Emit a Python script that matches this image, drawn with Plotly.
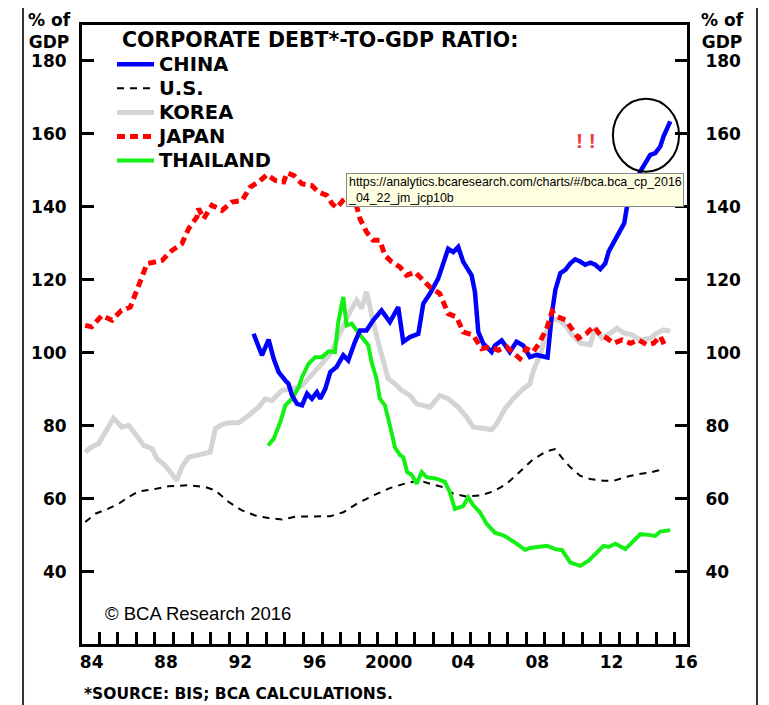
import plotly.graph_objects as go

# ---------------- data ----------------
china_x = [1992.72, 1992.99, 1993.17, 1993.35, 1993.53, 1993.8, 1994.07, 1994.43, 1994.6, 1994.79,
           1995.06, 1995.33, 1995.6, 1995.86, 1996.13, 1996.31, 1996.58, 1996.85, 1997.19, 1997.55,
           1997.82, 1998.18, 1998.45, 1998.8, 1999.16, 1999.61, 2000.06, 2000.51, 2000.78, 2001.14,
           2001.59, 2001.86, 2002.22, 2002.66, 2002.93, 2003.2, 2003.47, 2003.74, 2004.01, 2004.46,
           2004.64, 2004.82, 2005.09, 2005.54, 2005.72, 2006.08, 2006.52, 2006.88, 2007.24, 2007.6,
           2007.96, 2008.55, 2008.79, 2008.97, 2009.24, 2009.51, 2009.78, 2010.04, 2010.31, 2010.58,
           2010.85, 2011.12, 2011.39, 2011.66, 2011.84, 2012.2, 2012.47, 2012.68, 2012.83, 2013.01,
           2013.28, 2013.55, 2013.81, 2014.08, 2014.35, 2014.62, 2014.8, 2014.98, 2015.16]
china_y = [105.2, 102.0, 99.3, 101.5, 103.6, 98.4, 94.7, 92.4, 91.5, 88.3,
           86.0, 85.6, 88.8, 87.4, 89.2, 87.4, 90.1, 94.7, 96.1, 99.3,
           97.9, 103.0, 106.1, 106.1, 108.9, 111.6, 108.4, 112.5, 103.0, 104.3,
           105.2, 113.5, 116.2, 120.3, 124.9, 128.5, 127.6, 129.0, 124.9, 121.2,
           116.7, 105.7, 102.5, 100.2, 102.0, 103.4, 100.2, 103.0, 102.0, 98.8,
           99.4, 98.7, 110.9, 117.2, 121.8, 122.7, 124.5, 125.6, 125.0, 124.1,
           124.7, 124.1, 122.9, 124.5, 127.7, 130.9, 133.2, 135.5, 140.1, 142.8,
           146.5, 149.7, 151.9, 154.2, 154.7, 156.5, 159.3, 161.5, 163.4]

us_x = [1983.65, 1984.2, 1984.9, 1985.45, 1985.99, 1986.53, 1987.25, 1988.14, 1989.22, 1990.12,
        1990.66, 1991.38, 1992.09, 1992.81, 1993.53, 1994.25, 1994.97, 1996.04, 1996.85, 1997.55,
        1998.27, 1999.16, 2000.06, 2000.96, 2001.68, 2002.22, 2002.93, 2003.47, 2004.19, 2004.91,
        2005.63, 2006.35, 2007.06, 2007.78, 2008.5, 2008.95, 2009.33, 2009.78, 2010.31, 2010.85,
        2011.57, 2012.11, 2012.65, 2013.37, 2014.08, 2014.53, 2014.8]
us_y = [53.6, 55.9, 57.3, 58.6, 60.5, 62.0, 62.5, 63.4, 63.7, 63.2,
        62.3, 59.1, 56.8, 55.4, 54.7, 54.3, 55.1, 55.1, 55.2, 56.3,
        58.6, 60.9, 62.9, 64.3, 65.0, 64.1, 63.2, 61.4, 60.6, 60.9,
        62.0, 64.1, 67.3, 70.8, 73.0, 73.6, 71.2, 68.6, 66.3, 65.4,
        64.9, 64.9, 65.8, 66.7, 67.2, 67.8, 69.0]

korea_x = [1983.65, 1984.0, 1984.38, 1984.83, 1985.18, 1985.63, 1985.99, 1986.35, 1986.8, 1987.25,
           1987.52, 1987.96, 1988.32, 1988.59, 1988.86, 1989.22, 1989.67, 1990.12, 1990.39, 1990.66,
           1991.02, 1991.38, 1991.92, 1992.45, 1992.99, 1993.35, 1993.71, 1994.25, 1994.79, 1995.33,
           1995.86, 1996.4, 1996.85, 1997.19, 1997.55, 1997.91, 1998.27, 1998.54, 1998.8, 1998.98,
           1999.25, 1999.52, 1999.79, 1999.97, 2000.33, 2000.69, 2001.14, 2001.5, 2002.22, 2002.75,
           2003.2, 2003.74, 2004.19, 2004.55, 2005.09, 2005.54, 2005.81, 2006.25, 2006.7, 2007.15,
           2007.6, 2007.78, 2008.14, 2008.5, 2008.79, 2009.24, 2009.58, 2009.78, 2010.31, 2010.85,
           2011.12, 2011.48, 2011.93, 2012.29, 2012.65, 2013.1, 2013.55, 2014.08, 2014.44, 2014.8,
           2015.16]
korea_y = [72.8, 74.2, 75.1, 79.2, 82.1, 79.6, 80.1, 77.8, 74.6, 73.7,
           71.0, 69.1, 66.8, 65.0, 68.7, 71.4, 71.9, 72.3, 72.8, 79.2,
           80.3, 80.8, 80.8, 82.8, 85.1, 87.4, 86.9, 89.7, 90.1, 91.0,
           93.8, 97.0, 99.7, 103.5, 107.0, 111.2, 114.4, 112.1, 116.7, 112.1,
           106.6, 101.1, 95.6, 92.9, 91.5, 89.7, 88.3, 86.0, 85.1, 88.3,
           87.4, 85.1, 82.4, 79.6, 79.3, 78.9, 80.5, 84.6, 87.4, 89.7,
           91.5, 95.0, 99.3, 105.7, 109.4, 108.7, 107.1, 105.4, 102.6, 102.2,
           106.7, 104.0, 105.4, 106.7, 105.4, 104.9, 103.5, 104.0, 105.4, 106.3,
           105.9]

japan_x = [1983.65, 1984.0, 1984.55, 1985.1, 1985.6, 1986.08, 1986.53, 1986.98, 1987.79, 1988.32,
           1988.86, 1989.22, 1989.67, 1989.76, 1990.03, 1990.48, 1991.02, 1991.55, 1992.1, 1992.54,
           1992.99, 1993.44, 1993.89, 1994.34, 1994.52, 1994.88, 1995.32, 1995.86, 1996.22, 1996.67,
           1996.94, 1997.19, 1997.55, 1997.91, 1998.18, 1998.45, 1998.8, 1999.16, 1999.52, 1999.79,
           2000.15, 2000.6, 2000.96, 2001.41, 2001.77, 2002.22, 2002.75, 2003.2, 2003.65, 2004.01,
           2004.55, 2005.0, 2005.45, 2005.9, 2006.35, 2006.79, 2007.06, 2007.42, 2007.78, 2008.14,
           2008.5, 2008.79, 2009.06, 2009.51, 2009.87, 2010.22, 2010.67, 2011.03, 2011.39, 2011.75,
           2012.11, 2012.56, 2013.01, 2013.46, 2013.9, 2014.26, 2014.62, 2014.89]
japan_y = [107.5, 107.1, 110.2, 108.9, 111.6, 112.5, 118.4, 124.4, 125.3, 128.0,
           129.9, 134.0, 137.2, 139.5, 136.7, 140.4, 139.0, 141.3, 141.7, 145.4,
           146.8, 148.8, 147.2, 146.8, 149.3, 148.6, 146.3, 145.8, 144.0, 143.1,
           140.9, 139.7, 141.8, 143.1, 141.8, 136.7, 133.1, 130.8, 130.8, 126.7,
           124.9, 123.5, 121.2, 122.1, 120.3, 118.0, 116.2, 110.7, 109.8, 105.7,
           104.8, 101.1, 101.6, 100.7, 101.6, 99.8, 98.4, 101.1, 100.2, 103.0,
           106.6, 111.3, 109.9, 109.0, 106.3, 104.0, 105.4, 107.2, 104.9, 104.0,
           102.6, 103.5, 102.6, 103.5, 102.2, 102.6, 104.5, 101.7]

thai_x = [1993.5, 1993.8, 1994.16, 1994.43, 1994.79, 1995.15, 1995.33, 1995.68, 1996.04, 1996.4,
          1996.76, 1997.1, 1997.28, 1997.55, 1997.73, 1998.0, 1998.27, 1998.63, 1998.9, 1999.07,
          1999.34, 1999.52, 1999.79, 2000.06, 2000.33, 2000.6, 2000.78, 2000.99, 2001.23, 2001.5,
          2001.77, 2002.04, 2002.57, 2003.02, 2003.29, 2003.56, 2004.01, 2004.28, 2004.55, 2004.91,
          2005.27, 2005.72, 2006.25, 2006.88, 2007.33, 2007.6, 2008.05, 2008.52, 2008.97, 2009.33,
          2009.78, 2010.31, 2010.76, 2011.12, 2011.57, 2011.84, 2012.2, 2012.74, 2013.1, 2013.55,
          2014.0, 2014.35, 2014.62, 2015.16]
thai_y = [74.6, 76.4, 81.0, 85.6, 87.4, 90.6, 93.3, 97.0, 98.8, 98.8,
          100.4, 100.2, 108.4, 115.3, 107.5, 108.0, 106.1, 103.9, 102.0, 97.5,
          92.9, 87.4, 85.6, 80.1, 74.1, 72.0, 71.4, 67.3, 66.6, 64.1,
          67.3, 65.9, 65.5, 64.6, 61.8, 57.2, 58.0, 60.4, 58.2, 56.3,
          53.1, 50.7, 49.8, 47.7, 46.0, 46.5, 46.9, 47.1, 46.2, 45.9,
          42.5, 41.6, 43.0, 45.0, 47.1, 46.8, 47.7, 46.2, 48.0, 50.3,
          50.1, 49.8, 51.0, 51.4]

x_tickvals = [1984, 1988, 1992, 1996, 2000, 2004, 2008, 2012, 2016]
x_ticktext = ["84", "88", "92", "96", "2000", "04", "08", "12", "16"]
y_tickvals = [40, 60, 80, 100, 120, 140, 160, 180]


def legend_name(label):
    # legend text drawn a little larger than the legend's row spacing font
    return '<span style="font-size:19.5px">' + label + '</span>'


# ---------------- figure ----------------
BOLD = dict(family="DejaVu Sans", size=17, color="black", weight="bold")

fig = go.Figure()
fig.add_trace(go.Scatter(x=korea_x, y=korea_y, name=legend_name("KOREA"), mode="lines",
                         line=dict(color="#d4d4d4", width=5), legendrank=3))
fig.add_trace(go.Scatter(x=us_x, y=us_y, name=legend_name("U.S."), mode="lines",
                         line=dict(color="black", width=2, dash="7px,6px"), legendrank=2))
fig.add_trace(go.Scatter(x=thai_x, y=thai_y, name=legend_name("THAILAND"), mode="lines",
                         line=dict(color="#14f014", width=4), legendrank=5))
fig.add_trace(go.Scatter(x=china_x, y=china_y, name=legend_name("CHINA"), mode="lines",
                         line=dict(color="#0000ff", width=4.5), legendrank=1))
fig.add_trace(go.Scatter(x=japan_x, y=japan_y, name=legend_name("JAPAN"), mode="lines",
                         line=dict(color="#ff0000", width=5, dash="8px,5px"), legendrank=4))
# invisible trace to activate the right-hand axis
fig.add_trace(go.Scatter(x=[None], y=[None], yaxis="y2", showlegend=False, hoverinfo="skip"))

axis_common = dict(showgrid=False, zeroline=False, showline=True, linecolor="black", linewidth=3)

# the page body has an 8px margin, so the figure is made 8px smaller and margins shifted
fig.update_layout(
    width=761, height=697,
    margin=dict(l=74, r=82, t=17, b=61, autoexpand=False),
    paper_bgcolor="white", plot_bgcolor="white",
    showlegend=True,
    legend=dict(x=0.0496, y=0.964, xanchor="left", yanchor="top",
                font=dict(family="DejaVu Sans", size=16.2, color="black", weight="bold"),
                bgcolor="rgba(0,0,0,0)", itemwidth=37, tracegroupgap=0),
    xaxis=dict(**axis_common, range=[1983.48, 2016.06], mirror=True,
               tickvals=x_tickvals, ticktext=x_ticktext, ticks="", tickfont=BOLD,
               ticklabelstandoff=1,
               minor=dict(tick0=1984.41, dtick=1, ticks="inside", ticklen=12,
                          tickwidth=2.5, tickcolor="black")),
    yaxis=dict(**axis_common, range=[20.2, 189.8], tickvals=y_tickvals, ticks="inside",
               ticklen=12, tickwidth=2.5, tickcolor="black", tickfont=BOLD,
               ticklabelstandoff=9),
    yaxis2=dict(**axis_common, range=[20.2, 189.8], overlaying="y", side="right",
                tickvals=y_tickvals, ticks="inside", ticklen=12, tickwidth=2.5,
                tickcolor="black", tickfont=BOLD, ticklabelstandoff=12),
)

# outer frame
fig.add_shape(type="rect", xref="paper", yref="paper", x0=-0.0975, x1=1.1157, y0=-0.3, y1=1.0323,
              line=dict(color="#333333", width=2), layer="below")

# ellipse round the latest China readings
fig.add_shape(type="circle", xref="x", yref="y", x0=2012.07, x1=2015.63, y0=149.6, y1=169.6,
              line=dict(color="black", width=2))

ann_font = dict(family="DejaVu Sans", color="black", weight="bold")
fig.add_annotation(xref="paper", yref="paper", x=0.0628, y=0.9758, xanchor="left", yanchor="middle",
                   text="CORPORATE DEBT*-TO-GDP RATIO:", showarrow=False,
                   font=dict(**ann_font, size=20.5))
fig.add_annotation(xref="paper", yref="paper", x=-0.053, y=0.9895, xanchor="center", yanchor="middle",
                   text="% of<br>GDP", showarrow=False, font=dict(**ann_font, size=17))
fig.add_annotation(xref="paper", yref="paper", x=1.0595, y=0.9895, xanchor="center", yanchor="middle",
                   text="% of<br>GDP", showarrow=False, font=dict(**ann_font, size=17))
fig.add_annotation(xref="paper", yref="paper", x=0.0, y=-0.08, xanchor="left", yanchor="middle",
                   text="*SOURCE: BIS; BCA CALCULATIONS.", showarrow=False,
                   font=dict(**ann_font, size=15.5))
fig.add_annotation(xref="paper", yref="paper", x=0.034, y=0.0495, xanchor="left", yanchor="middle",
                   text="© BCA Research 2016", showarrow=False,
                   font=dict(family="Liberation Sans, Arial", size=18.5, color="black"))
fig.add_annotation(xref="paper", yref="paper", x=0.833, y=0.814, xanchor="center", yanchor="middle",
                   text="! !", showarrow=False,
                   font=dict(family="Liberation Sans, Arial", size=21, color="#f03c3c", weight="bold"))
fig.add_annotation(xref="paper", yref="paper", x=0.436, y=0.761, xanchor="left", yanchor="top",
                   text="https://analytics.bcaresearch.com/charts/#/bca.bca_cp_2016<br>_04_22_jm_jcp10b",
                   align="left", showarrow=False, bgcolor="#ffffe1", bordercolor="#8a8a8a",
                   borderwidth=1, borderpad=1,
                   font=dict(family="Liberation Sans, Arial", size=12.4, color="black"))

fig.write_html("out.html")
